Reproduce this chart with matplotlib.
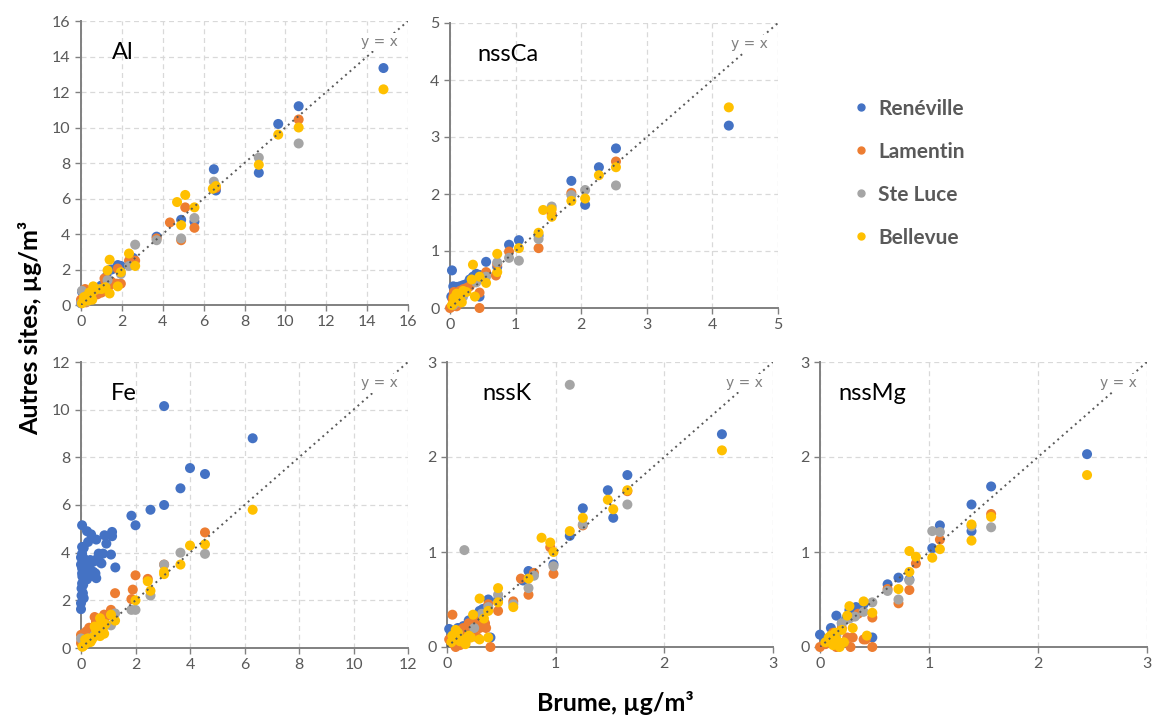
import matplotlib
matplotlib.use("Agg")
import matplotlib.pyplot as plt
from matplotlib.lines import Line2D

plt.rcParams['font.family'] = ['Lato', 'DejaVu Sans']

sites = ["Renéville", "Lamentin", "Ste Luce", "Bellevue"]
colors = ["#4472C4", "#ED7D31", "#A5A5A5", "#FFC000"]

# ---- Al ----
al_x = [
    [14.8, 10.65, 9.65, 8.7, 6.5, 6.6, 5.55, 4.9, 3.7, 2.55, 1.8, 1.95, 1.5, 1.2, 1.0, 0.9, 0.7, 0.5, 0.3, 0.15, 0.05, 0.0, 0.4, 0.6,
     1.35, 1.25, 0.25, 0.1],
    [10.65, 6.6, 5.1, 5.55, 4.35, 4.9, 3.7, 2.65, 2.35, 1.8, 1.95, 1.5, 1.3, 1.2, 1.0, 0.9, 0.8, 0.6, 0.5, 0.4, 0.3, 0.2, 0.1, 0.05, 0.0,
     1.15, 1.4, 0.7, 0.35, 0.15, 0.55, 0.25, 1.75],
    [10.65, 8.7, 6.5, 5.55, 4.9, 3.7, 2.65, 2.35, 1.95, 1.3, 0.9, 0.5, 0.2, 0.05, 0.0, 0.3],
    [14.8, 10.65, 9.65, 8.7, 6.6, 6.45, 5.1, 4.7, 5.55, 4.9, 2.65, 2.35, 1.4, 1.3, 1.4, 1.8, 1.95, 1.2, 1.0, 0.6, 0.55, 0.5, 0.4,
     0.3, 0.2, 0.1, 0.05, 0.15, 0.35, 0.7],
]
al_y = [
    [13.35, 11.2, 10.2, 7.45, 7.65, 6.45, 4.7, 4.8, 3.85, 2.65, 2.25, 2.2, 2.0, 1.1, 1.1, 1.0, 0.8, 0.6, 0.5, 0.3, 0.75, 0.1, 0.55, 0.7,
     1.95, 1.6, 0.35, 0.2],
    [10.45, 6.6, 5.5, 4.35, 4.65, 3.65, 3.75, 2.5, 2.5, 2.05, 1.2, 1.3, 1.4, 1.3, 0.7, 0.7, 0.6, 0.8, 0.5, 0.7, 0.6, 0.9, 0.4, 0.2, 0.3,
     1.5, 1.1, 0.75, 0.55, 0.45, 0.85, 0.15, 1.2],
    [9.1, 8.3, 6.95, 4.9, 3.75, 3.65, 3.4, 2.2, 1.75, 1.4, 0.9, 0.6, 0.3, 0.8, 0.1, 0.2],
    [12.15, 10.0, 9.6, 7.9, 6.7, 6.55, 6.2, 5.8, 5.5, 4.5, 2.2, 2.9, 2.55, 1.95, 0.65, 1.05, 1.85, 1.0, 0.9, 1.05, 0.3, 0.6, 0.7,
     0.5, 0.3, 0.2, 0.1, 0.45, 0.25, 0.85],
]

# ---- nssCa ----
ca_x = [
    [4.25, 2.53, 2.27, 1.85, 2.06, 1.35, 1.05, 0.9, 0.72, 0.55, 0.4, 0.45, 0.03, 0.05, 0.1, 0.15, 0.2, 0.25, 0.3, 0.02, 0.08,
     0.45, 0.35, 0.12],
    [2.53, 1.85, 1.55, 1.35, 0.9, 0.72, 0.7, 0.55, 0.45, 0.45, 0.3, 0.25, 0.2, 0.15, 0.1, 0.05, 0.02, 0.08, 0.12, 0.0,
     0.04, 0.18, 0.06, 0.1],
    [2.53, 1.85, 2.06, 1.55, 1.35, 1.05, 0.9, 0.72, 0.55, 0.4, 0.2, 0.1, 0.05, 0.15],
    [4.25, 2.53, 2.27, 1.85, 2.06, 1.55, 1.55, 1.42, 1.35, 1.05, 0.72, 0.72, 0.55, 0.45, 0.35, 0.33, 0.38, 0.25, 0.2, 0.15, 0.1,
     0.08, 0.05, 0.03, 0.12, 0.06, 0.18],
]
ca_y = [
    [3.2, 2.8, 2.47, 2.23, 1.81, 1.27, 1.19, 1.11, 0.72, 0.81, 0.6, 0.2, 0.66, 0.38, 0.37, 0.38, 0.4, 0.42, 0.5, 0.2, 0.1,
     0.58, 0.55, 0.3],
    [2.57, 2.02, 1.65, 1.05, 0.99, 0.77, 0.57, 0.63, 0.0, 0.27, 0.38, 0.35, 0.33, 0.3, 0.25, 0.2, 0.02, 0.05, 0.1, 0.0,
     0.15, 0.22, 0.28, 0.03],
    [2.15, 1.98, 2.07, 1.78, 1.21, 0.83, 0.88, 0.8, 0.55, 0.45, 0.2, 0.15, 0.05, 0.1],
    [3.52, 2.47, 2.33, 1.88, 1.92, 1.73, 1.6, 1.72, 1.32, 1.05, 0.95, 0.63, 0.44, 0.55, 0.76, 0.5, 0.2, 0.28, 0.3, 0.2, 0.25,
     0.12, 0.08, 0.05, 0.15, 0.18, 0.1],
]

# ---- Fe ----
fe_x = [
    [3.05, 6.3, 4.0, 4.55, 3.65, 3.05, 2.55, 1.85, 2.0, 0.04, 0.22, 0.37, 0.56, 0.26, 0.04, 0.1, 0.86, 1.14, 1.14, 0.93,
     0.65, 0.81, 1.1, 1.26, 0.53, 0.56, 0.68, 0.34, 0.22, 0.1, 0.04, 0.04, 0.07, 0.1, 0.0, 0.0, 0.22, 0.28, 0.04, 0.04,
     0.0, 0.02, 0.08, 0.12, 0.15, 0.18, 0.3, 0.42, 0.45, 0.05, 0.02, 0.0, 0.14, 0.2, 0.6, 0.75],
    [4.55, 3.05, 2.45, 2.0, 1.9, 1.85, 1.25, 1.1, 0.85, 0.5, 0.7, 0.3, 0.4, 0.2, 0.1, 0.0, 0.05, 0.6, 0.0,
     0.45, 0.55, 0.65, 0.25, 0.15, 0.35, 0.02, 0.9, 0.75],
    [4.55, 3.65, 3.05, 2.55, 1.85, 2.0, 1.25, 1.1, 0.7, 0.3, 0.1, 0.0, 0.5, 0.2],
    [6.3, 4.0, 4.55, 3.65, 3.05, 3.05, 2.45, 2.55, 2.0, 1.25, 1.1, 0.7, 0.8, 0.7, 0.85, 0.6, 0.5, 0.4, 0.3, 0.2, 0.1, 0.05, 0.15,
     0.75, 0.65, 0.55, 0.45, 0.25, 0.35, 0.9],
]
fe_y = [
    [10.15, 8.8, 7.55, 7.3, 6.7, 6.0, 5.8, 5.55, 5.15, 5.15, 4.9, 4.77, 4.55, 4.45, 4.24, 4.2, 4.73, 4.87, 4.69, 4.38,
     3.96, 3.96, 3.92, 3.38, 3.13, 2.93, 3.62, 3.69, 3.41, 3.76, 3.13, 2.71, 2.3, 2.09, 1.88, 1.63, 2.88, 2.99, 3.34, 3.96,
     3.5, 2.5, 2.65, 2.85, 3.25, 3.55, 3.3, 3.6, 3.2, 3.0, 2.2, 3.8, 3.05, 3.45, 3.75, 3.55],
    [4.85, 3.5, 2.9, 3.05, 2.45, 2.05, 2.3, 1.6, 1.4, 1.3, 1.2, 0.85, 0.8, 0.7, 0.6, 0.55, 0.4, 0.9, 0.2,
     0.75, 1.1, 1.0, 0.65, 0.5, 0.55, 0.3, 1.3, 1.05],
    [3.95, 4.0, 3.5, 2.2, 1.6, 1.6, 1.45, 0.95, 0.7, 0.4, 0.3, 0.4, 0.55, 0.25],
    [5.8, 4.3, 4.35, 3.5, 3.2, 3.1, 2.8, 2.4, 2.0, 1.15, 1.4, 1.25, 0.8, 0.5, 0.6, 0.6, 0.9, 0.35, 0.3, 0.2, 0.1, 0.05, 0.35,
     1.1, 0.85, 0.75, 0.45, 0.4, 0.25, 1.0],
]

# ---- nssK ----
k_x = [
    [2.53, 1.66, 1.48, 1.53, 1.25, 1.13, 0.98, 0.75, 0.7, 0.47, 0.38, 0.4, 0.3, 0.25, 0.2, 0.15, 0.1, 0.02, 0.05,
     0.28, 0.33, 0.18],
    [1.66, 1.25, 0.95, 0.98, 0.75, 0.8, 0.68, 0.61, 0.47, 0.38, 0.05, 0.4, 0.35, 0.3, 0.25, 0.2, 0.15, 0.1, 0.05, 0.12, 0.18,
     0.22, 0.28, 0.08, 0.02, 0.13, 0.27, 0.33, 0.17, 0.07, 0.24, 0.36],
    [1.13, 0.16, 1.66, 1.25, 0.98, 0.75, 0.8, 0.61, 0.47, 0.38, 0.25, 0.1, 0.32],
    [2.53, 1.66, 1.48, 1.53, 1.25, 1.13, 0.87, 0.95, 0.98, 0.75, 0.61, 0.47, 0.47, 0.3, 0.38, 0.24, 0.2, 0.15, 0.1, 0.05,
     0.38, 0.3, 0.17, 0.08, 0.04, 0.12, 0.22, 0.34],
]
k_y = [
    [2.24, 1.81, 1.65, 1.36, 1.46, 1.17, 0.87, 0.8, 0.7, 0.5, 0.5, 0.1, 0.38, 0.3, 0.28, 0.22, 0.2, 0.19, 0.1,
     0.25, 0.4, 0.15],
    [1.64, 1.28, 1.05, 0.77, 0.55, 0.78, 0.72, 0.48, 0.38, 0.45, 0.34, 0.0, 0.25, 0.2, 0.27, 0.25, 0.2, 0.15, 0.08, 0.02, 0.12,
     0.22, 0.1, 0.0, 0.08, 0.18, 0.28, 0.22, 0.05, 0.02, 0.15, 0.2],
    [2.76, 1.02, 1.5, 1.29, 0.85, 0.62, 0.75, 0.45, 0.55, 0.42, 0.2, 0.15, 0.35],
    [2.07, 1.65, 1.55, 1.45, 1.36, 1.22, 1.15, 1.1, 1.0, 0.72, 0.42, 0.62, 0.47, 0.51, 0.38, 0.34, 0.12, 0.08, 0.15, 0.12,
     0.1, 0.08, 0.03, 0.18, 0.05, 0.06, 0.1, 0.3],
]

# ---- nssMg ----
mg_x = [
    [2.45, 1.57, 1.39, 1.39, 1.1, 1.03, 0.82, 0.72, 0.62, 0.48, 0.4, 0.27, 0.15, 0.0, 0.1, 0.2, 0.33, 0.05, 0.24, 0.36],
    [1.57, 1.1, 0.88, 0.82, 0.72, 0.62, 0.48, 0.48, 0.4, 0.35, 0.0, 0.1, 0.15, 0.2, 0.25, 0.28, 0.12, 0.05, 0.42, 0.18, 0.3],
    [1.57, 1.39, 1.1, 1.03, 0.82, 0.72, 0.62, 0.48, 0.4, 0.27, 0.2, 0.1, 0.32, 0.15],
    [2.45, 1.57, 1.39, 1.39, 1.1, 1.03, 0.88, 0.82, 0.82, 0.72, 0.48, 0.4, 0.43, 0.27, 0.25, 0.2, 0.15, 0.1, 0.05, 0.12, 0.18,
     0.08, 0.22, 0.3, 0.14],
]
mg_y = [
    [2.03, 1.69, 1.5, 1.22, 1.28, 1.04, 0.71, 0.73, 0.66, 0.1, 0.45, 0.39, 0.33, 0.13, 0.2, 0.25, 0.42, 0.08, 0.3, 0.4],
    [1.4, 1.13, 0.88, 0.6, 0.46, 0.61, 0.31, 0.0, 0.08, 0.35, 0.0, 0.05, 0.0, 0.2, 0.1, 0.0, 0.15, 0.03, 0.08, 0.02, 0.1],
    [1.26, 1.27, 1.21, 1.22, 0.7, 0.5, 0.59, 0.47, 0.37, 0.3, 0.25, 0.1, 0.32, 0.12],
    [1.81, 1.37, 1.29, 1.12, 1.03, 0.94, 0.95, 1.01, 0.79, 0.61, 0.36, 0.48, 0.12, 0.43, 0.33, 0.18, 0.08, 0.12, 0.05, 0.02, 0.0,
     0.1, 0.05, 0.2, 0.15],
]

panels = [
    # name, xs, ys, limit, step, [left, right, top, bottom] in pixels, label x
    ("Al", al_x, al_y, 16, 2, [81, 408, 21, 305], 0.095),
    ("nssCa", ca_x, ca_y, 5, 1, [450, 778, 23, 308], 0.082),
    ("Fe", fe_x, fe_y, 12, 2, [81, 408, 362, 648], 0.09),
    ("nssK", k_x, k_y, 3, 1, [447, 773, 362, 647], 0.11),
    ("nssMg", mg_x, mg_y, 3, 1, [820, 1147, 362, 647], 0.055),
]

W, H = 1152, 717
fig = plt.figure(figsize=(W / 100, H / 100), dpi=100)

for name, xs, ys, lim, step, (l, r, t, b), lx in panels:
    ax = fig.add_axes([l / W, (H - b) / H, (r - l) / W, (b - t) / H])
    ax.plot([0, lim], [0, lim], linestyle=(0, (1, 2)), color="#595959", lw=1.4, zorder=4)
    for i in range(4):
        ax.scatter(xs[i], ys[i], s=52, color=colors[i], edgecolors="none", zorder=3, clip_on=False)
    ax.set_xlim(0, lim)
    ax.set_ylim(0, lim)
    ticks = list(range(0, lim + 1, step))
    ax.set_xticks(ticks)
    ax.set_yticks(ticks)
    ax.grid(True, linestyle=(0, (4, 3)), color="#D9D9D9", lw=0.9, zorder=0)
    ax.set_axisbelow(True)
    for s in ["top", "right"]:
        ax.spines[s].set_visible(False)
    for s in ["left", "bottom"]:
        ax.spines[s].set_color("#808080")
        ax.spines[s].set_linewidth(1.4)
    ax.tick_params(colors="#808080", labelcolor="#595959", labelsize=11.5, length=4, width=1)
    ax.text(lx, 0.89, name, transform=ax.transAxes, fontsize=17, va="center", ha="left", color="black")
    ax.text(0.97, 0.925, "y = x", transform=ax.transAxes, fontsize=10, color="#7F7F7F", ha="right", va="center",
            family="DejaVu Sans", zorder=5,
            bbox=dict(boxstyle="square,pad=0.15", facecolor="white", edgecolor="none"))

handles = [Line2D([], [], marker="o", linestyle="none", color=c, markersize=5) for c in colors]
fig.legend(handles, sites, loc="upper left", bbox_to_anchor=(830 / W, (H - 80) / H),
           frameon=False, prop={"size": 15, "weight": "bold"}, labelcolor="#595959",
           labelspacing=1.1, handletextpad=0.2, handlelength=1.2)

fig.text(30 / W, (H - 328) / H, "Autres sites, µg/m³", rotation=90, fontsize=18, fontweight="bold",
         ha="center", va="center")
fig.text(615 / W, (H - 703) / H, "Brume, µg/m³", fontsize=18, fontweight="bold", ha="center", va="center")

fig.savefig("out.png", dpi=100)
